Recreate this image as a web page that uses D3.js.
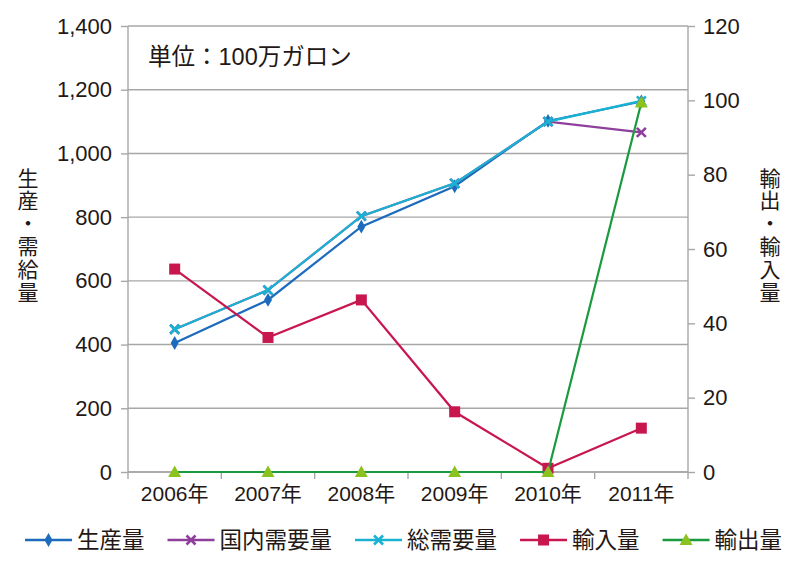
<!DOCTYPE html>
<html><head><meta charset="utf-8">
<script src="https://cdn.jsdelivr.net/npm/d3@7"></script>
<style>
body{margin:0;background:#fff;}
text{font-family:"Liberation Sans","Noto Sans CJK JP",sans-serif;fill:#231815;}
</style></head>
<body><svg id="c" width="800" height="570"></svg>
<script>
const years = ["2006年","2007年","2008年","2009年","2010年","2011年"];
const production = [405, 540, 770, 897, 1102, 1163];
const domesticDemand = [448, 571, 803, 906, 1100, 1066];
const totalDemand = [448, 571, 803, 906, 1100, 1165];
const imports = [54.6, 36.2, 46.3, 16.2, 1.0, 11.8];
const exports_ = [0, 0, 0, 0, 0, 99.4];
const leftTicks = [0, 200, 400, 600, 800, 1000, 1200, 1400];
const rightTicks = [0, 20, 40, 60, 80, 100, 120];
const seriesNames = ["生産量","国内需要量","総需要量","輸入量","輸出量"];

const svg = d3.select("#c");
const L = 128, R = 688, T = 26, B = 472;
const x = d3.scaleBand().domain(years).range([L, R]).padding(0);
const yL = d3.scaleLinear().domain([0, 1400]).range([B, T]);
const yR = d3.scaleLinear().domain([0, 120]).range([B, T]);
const grey = "#a7a7a7";

// gridlines
svg.append("g").selectAll("line").data(leftTicks).join("line")
  .attr("x1", L).attr("x2", R).attr("y1", d => yL(d)).attr("y2", d => yL(d))
  .attr("stroke", grey).attr("stroke-width", 1.4);

// left axis
const gl = svg.append("g").attr("transform", `translate(${L},0)`)
  .call(d3.axisLeft(yL).tickValues(leftTicks).tickSize(7).tickPadding(9).tickFormat(d3.format(",")));
// right axis
const gr = svg.append("g").attr("transform", `translate(${R},0)`)
  .call(d3.axisRight(yR).tickValues(rightTicks).tickSize(7).tickPadding(8));
// bottom axis
const gb = svg.append("g").attr("transform", `translate(0,${B})`)
  .call(d3.axisBottom(x).tickSize(0).tickPadding(14));
// boundary ticks for bottom axis
const bounds = years.map(y => x(y)).concat([R]);
svg.append("g").selectAll("line").data(bounds).join("line")
  .attr("x1", d => d).attr("x2", d => d).attr("y1", B).attr("y2", B + 7)
  .attr("stroke", grey).attr("stroke-width", 1.4);

[gl, gr, gb].forEach(g => {
  g.selectAll(".domain").attr("stroke", grey).attr("stroke-width", 1.4);
  g.selectAll(".tick line").attr("stroke", grey).attr("stroke-width", 1.4);
  g.selectAll("text").attr("font-size", 22).attr("fill", "#231815");
});
gl.select(".domain").attr("d", `M0,${T}V${B}`);
gr.select(".domain").attr("d", `M0,${T}V${B}`);
gb.select(".domain").attr("d", `M${L},0H${R}`);
gb.selectAll("text").attr("font-size", 21);

const cx = d => x(d) + x.bandwidth() / 2;

const series = [
  {name: seriesNames[0], vals: production, scale: yL, color: "#1c6bbd", marker: "diamond"},
  {name: seriesNames[1], vals: domesticDemand, scale: yL, color: "#8e3f9c", marker: "x"},
  {name: seriesNames[2], vals: totalDemand, scale: yL, color: "#1ab2d3", marker: "x2"},
  {name: seriesNames[3], vals: imports, scale: yR, color: "#c8174f", marker: "square"},
  {name: seriesNames[4], vals: exports_, scale: yR, color: "#1a9a3e", marker: "triangle", mcolor: "#8cc21f"},
];

function drawMarker(g, type, color, px, py) {
  if (type === "diamond") {
    g.append("path").attr("d", d3.symbol(d3.symbolDiamond, 55)()).attr("transform", `translate(${px},${py})`).attr("fill", color);
  } else if (type === "x" || type === "x2") {
    const s = 4.5;
    g.append("path").attr("d", `M${px-s},${py-s}L${px+s},${py+s}M${px-s},${py+s}L${px+s},${py-s}`)
      .attr("stroke", color).attr("stroke-width", 2.6).attr("fill", "none");
  } else if (type === "square") {
    g.append("rect").attr("x", px - 5.5).attr("y", py - 5.5).attr("width", 11).attr("height", 11).attr("fill", color);
  } else if (type === "triangle") {
    g.append("path").attr("d", `M${px},${py-6.5}L${px+6.5},${py+5}L${px-6.5},${py+5}Z`).attr("fill", color);
  }
}

series.forEach(s => {
  const g = svg.append("g");
  const line = d3.line().x((d, i) => cx(years[i])).y(d => s.scale(d));
  g.append("path").datum(s.vals).attr("d", line).attr("fill", "none")
    .attr("stroke", s.color).attr("stroke-width", 2.2);
  s.vals.forEach((v, i) => drawMarker(g, s.marker, s.mcolor || s.color, cx(years[i]), s.scale(v)));
});

// unit label
svg.append("text").attr("x", 148).attr("y", 65).attr("font-size", 23.5).text("単位：100万ガロン");

// vertical axis titles
const leftTitle = "生産・需給量".split("");
const rightTitle = "輸出・輸入量".split("");
svg.append("g").selectAll("text").data(leftTitle).join("text")
  .attr("x", 28).attr("y", (d, i) => 178 + i * 22.8).attr("text-anchor", "middle")
  .attr("dominant-baseline", "central").attr("font-size", 21).text(d => d);
svg.append("g").selectAll("text").data(rightTitle).join("text")
  .attr("x", 770).attr("y", (d, i) => 178 + i * 22.8).attr("text-anchor", "middle")
  .attr("dominant-baseline", "central").attr("font-size", 21).text(d => d);

// legend
const lg = svg.append("g");
let lx = 25;
const ly = 540;
series.forEach(s => {
  lg.append("line").attr("x1", lx).attr("x2", lx + 47).attr("y1", ly).attr("y2", ly)
    .attr("stroke", s.color).attr("stroke-width", 2.4);
  drawMarker(lg, s.marker, s.mcolor || s.color, lx + 23.5, ly);
  const t = lg.append("text").attr("x", lx + 52).attr("y", ly + 8).attr("font-size", 22.5).text(s.name);
  lx = lx + 52 + t.node().getComputedTextLength() + 23;
});
</script></body></html>
